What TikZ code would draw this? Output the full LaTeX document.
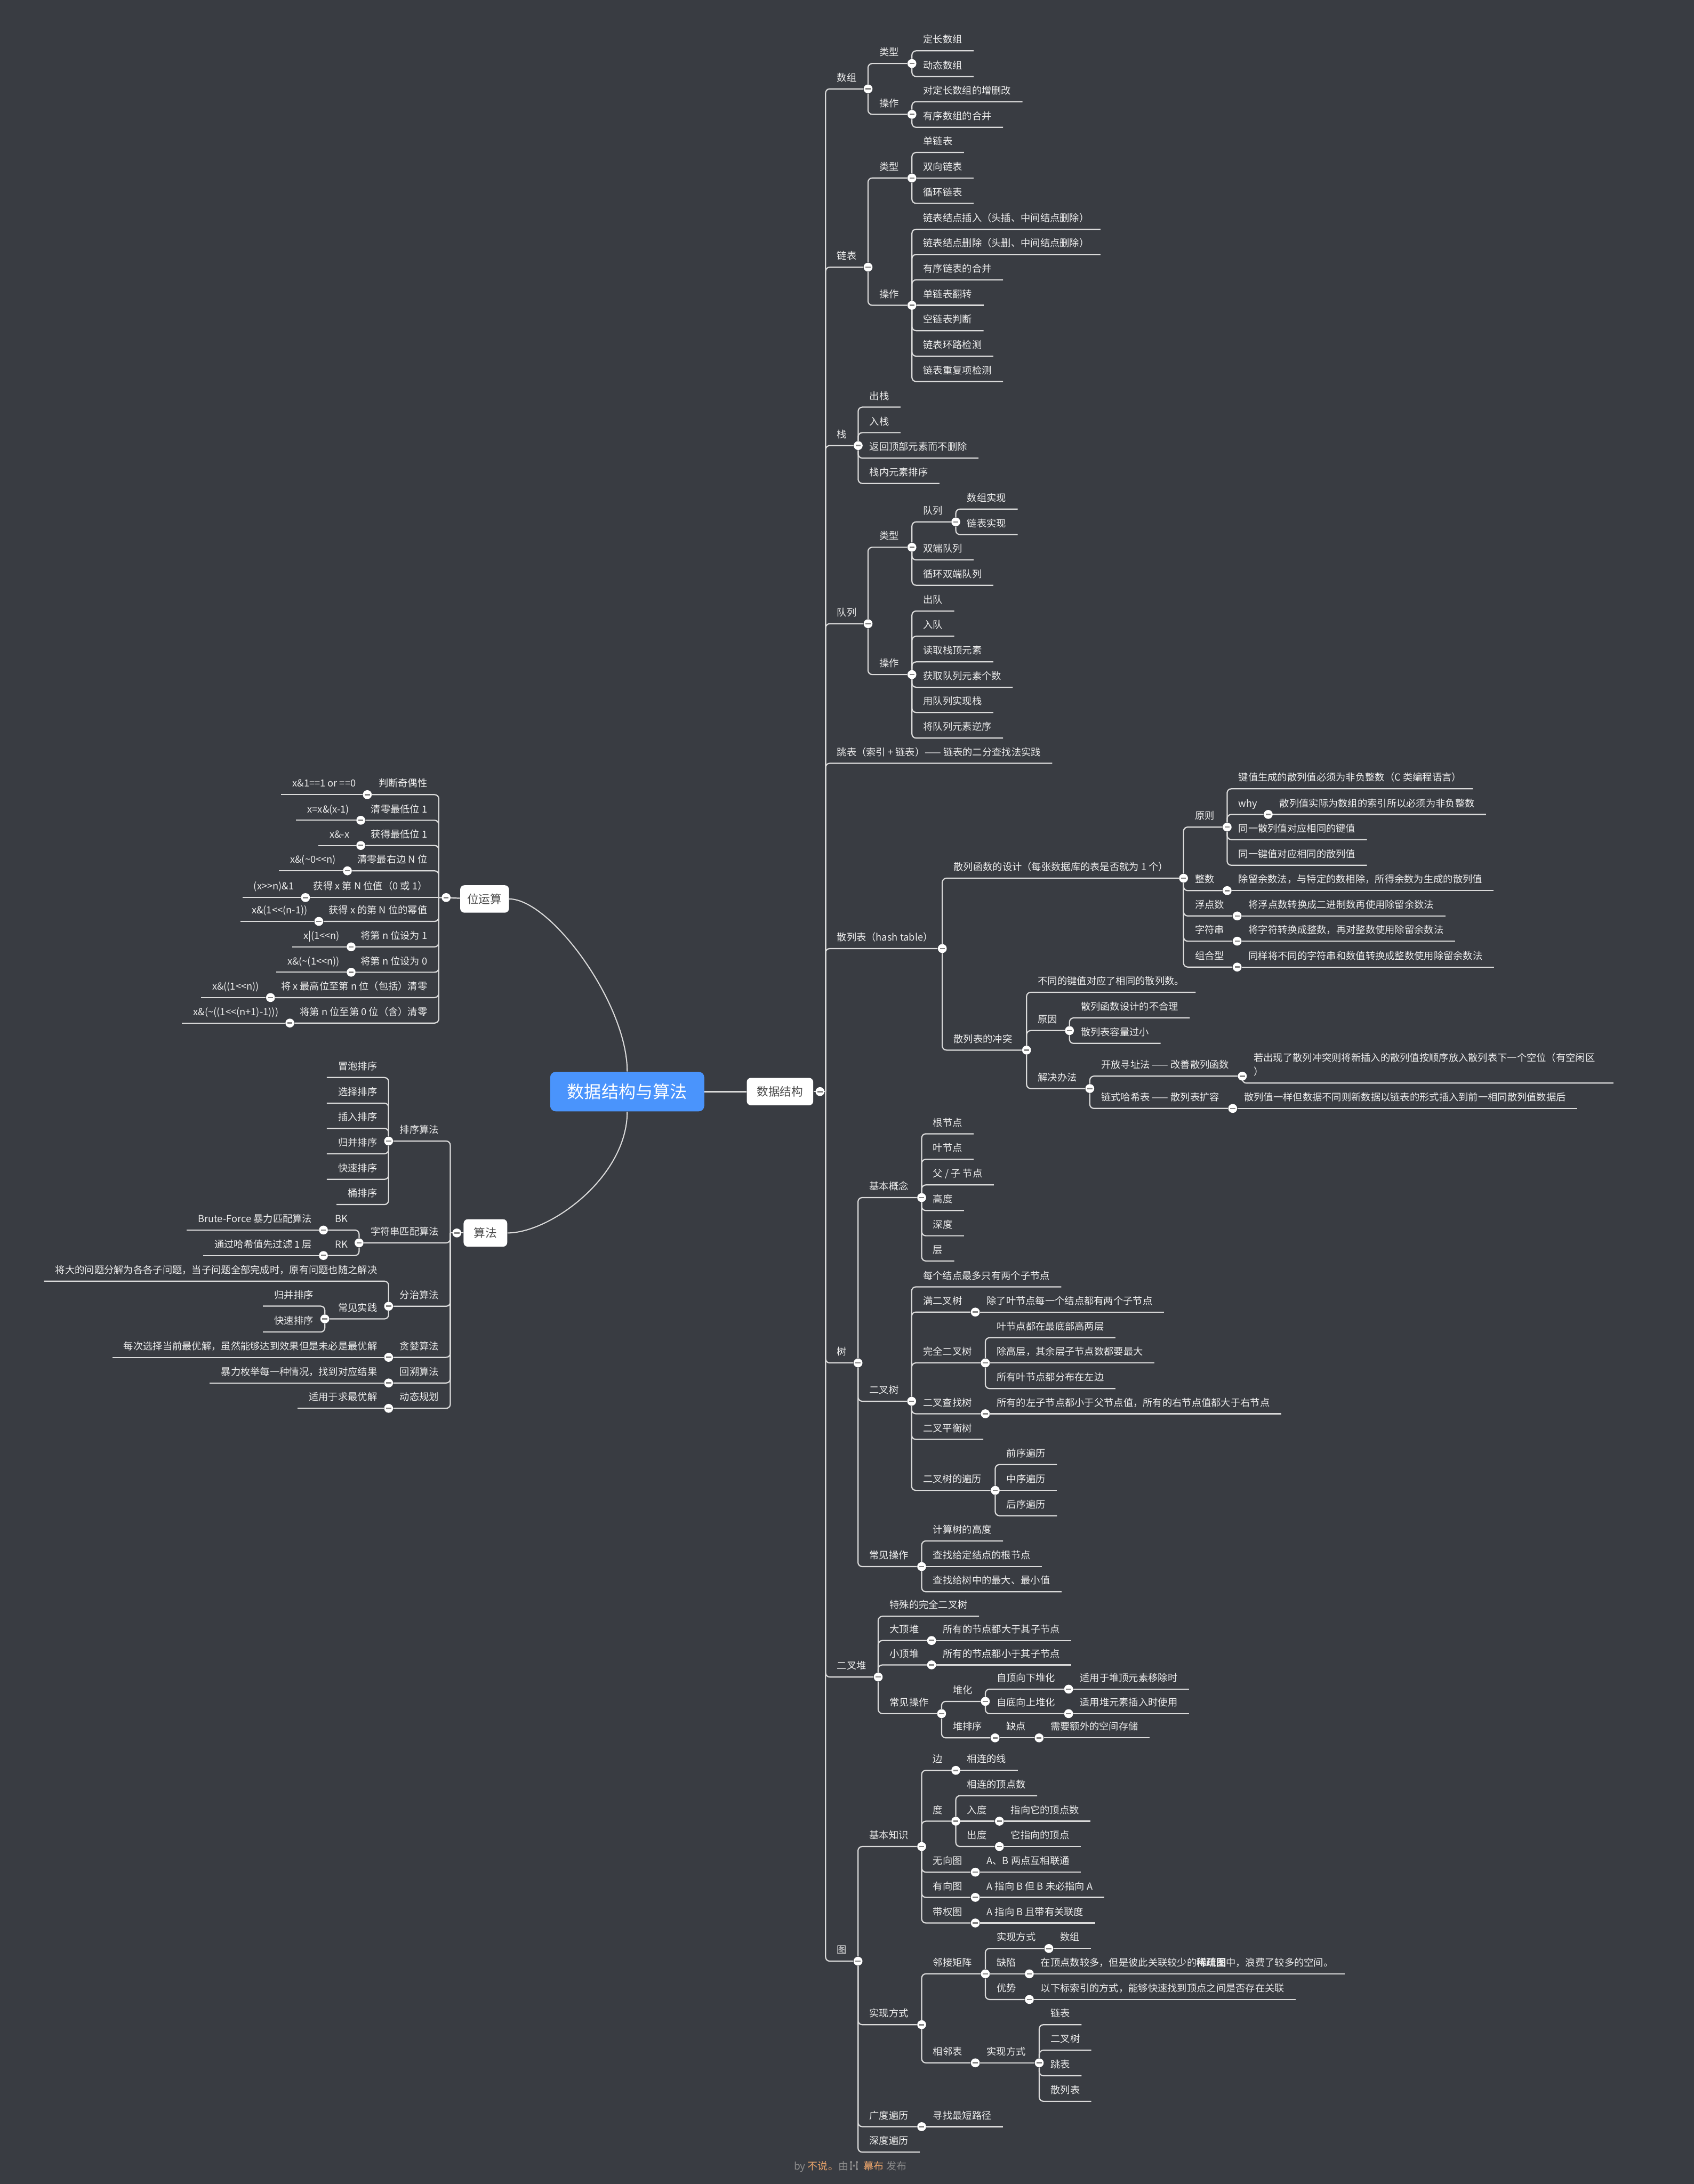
\documentclass[tikz,border=0pt]{standalone}
\usepackage{fontspec}
\setmainfont{Noto Sans CJK SC}
\usetikzlibrary{positioning}
\definecolor{MapBack}{RGB}{57,60,66}
\definecolor{MapLine}{RGB}{218,218,218}
\definecolor{MapText}{RGB}{238,238,238}
\definecolor{BoxText}{RGB}{77,77,77}
\definecolor{RootBlue}{RGB}{74,148,252}
\definecolor{KnobBar}{RGB}{130,130,130}
\definecolor{FootGrey}{RGB}{140,140,140}
\definecolor{FootOrange}{RGB}{232,163,106}
\newcommand{\leaffont}{\fontsize{7}{10}\selectfont}
\newcommand{\topicfont}{\fontsize{8.3}{10}\selectfont}
\newcommand{\rootfont}{\fontsize{12.3}{14}\selectfont}
\newcommand{\footfont}{\fontsize{7.3}{9}\selectfont}
\newcommand{\shl}{<\kern0pt<}
\newcommand{\shr}{>\kern0pt>}
\pgfdeclarelayer{back}
\pgfdeclarelayer{lines}
\pgfsetlayers{back,lines,main}

\begin{document}
\begin{tikzpicture}[
    x=1pt, y=-1pt,
    leaf/.style={anchor=south west, inner xsep=8pt, inner ysep=0pt, text depth=5.3pt, text=MapText, font=\leaffont},
    leafL/.style={leaf, anchor=south east},
    knob/.style={circle, fill=white, inner sep=0pt, minimum size=6.4pt,
        path picture={\fill[KnobBar] ([xshift=-1.8pt,yshift=-0.5pt]path picture bounding box.center) rectangle ([xshift=1.8pt,yshift=0.5pt]path picture bounding box.center);}},
    topic/.style={rectangle, rounded corners=3pt, fill=white, text=BoxText, font=\topicfont, inner sep=0pt, minimum height=19.7pt},
    branch/.style={draw=MapLine, line width=0.85pt, rounded corners=3pt},
    curve/.style={draw=MapLine, line width=0.8pt},
    footnote/.style={font=\footfont, text=FootGrey, inner sep=0pt}
]
\begin{pgfonlayer}{back}
\fill[MapBack] (0,0) rectangle (1216,1568);
\end{pgfonlayer}
\useasboundingbox (0,0) rectangle (1216,1568);

\node[rectangle, rounded corners=4pt, fill=RootBlue, text=white, font=\rootfont, inner sep=0pt, minimum width=110.6pt, minimum height=28.4pt] (root) at (450.3,783.7) {数据结构与算法};
\node[topic, minimum width=47.7pt] (ds) at (560,783.7) {数据结构};
\node[topic, minimum width=35pt] (bit) at (347.9,645.4) {位运算};
\node[topic, minimum width=31.3pt] (algo) at (348.5,885.2) {算法};
\node[knob] (kds) at (588.7,783.7) {};
\node[knob] (kbit) at (320.3,644.4) {};
\node[knob] (kalgo) at (328,885.2) {};
\coordinate (tds) at (592.7,783.7);
\coordinate (tbit) at (315,644.4);
\coordinate (talgo) at (323.3,885.2);

\node[leaf] (sz) at (592.7,63.8) {数组};
\node[knob] (ksz) at (623.2,63.8) {};
\node[leaf] (szlx) at (623.2,45.6) {类型};
\node[knob] (kszlx) at (654.7,45.6) {};
\node[leaf] (szlx1) at (654.7,36.5) {定长数组};
\node[leaf] (szlx2) at (654.7,54.9) {动态数组};
\node[leaf] (szcz) at (623.2,82.1) {操作};
\node[knob] (kszcz) at (654.7,82.1) {};
\node[leaf] (szcz1) at (654.7,73) {对定长数组的增删改};
\node[leaf] (szcz2) at (654.7,91.4) {有序数组的合并};

\node[leaf] (lb) at (592.7,191.8) {链表};
\node[knob] (klb) at (623.2,191.8) {};
\node[leaf] (lblx) at (623.2,127.8) {类型};
\node[knob] (klblx) at (654.7,127.8) {};
\node[leaf] (lblx1) at (654.7,109.5) {单链表};
\node[leaf] (lblx2) at (654.7,127.8) {双向链表};
\node[leaf] (lblx3) at (654.7,146) {循环链表};
\node[leaf] (lbcz) at (623.2,219.2) {操作};
\node[knob] (klbcz) at (654.7,219.2) {};
\node[leaf] (lbcz1) at (654.7,164.6) {链表结点插入（头插、中间结点删除）};
\node[leaf] (lbcz2) at (654.7,182.7) {链表结点删除（头删、中间结点删除）};
\node[leaf] (lbcz3) at (654.7,200.9) {有序链表的合并};
\node[leaf] (lbcz4) at (654.7,219.2) {单链表翻转};
\node[leaf] (lbcz5) at (654.7,237.4) {空链表判断};
\node[leaf] (lbcz6) at (654.7,255.7) {链表环路检测};
\node[leaf] (lbcz7) at (654.7,273.9) {链表重复项检测};

\node[leaf] (zh) at (592.7,319.9) {栈};
\node[knob] (kzh) at (616.1,319.9) {};
\node[leaf] (zh1) at (616.1,292.3) {出栈};
\node[leaf] (zh2) at (616.1,310.6) {入栈};
\node[leaf] (zh3) at (616.1,328.9) {返回顶部元素而不删除};
\node[leaf] (zh4) at (616.1,347.1) {栈内元素排序};

\node[leaf] (dl) at (592.7,447.8) {队列};
\node[knob] (kdl) at (623.2,447.8) {};
\node[leaf] (dllx) at (623.2,392.9) {类型};
\node[knob] (kdllx) at (654.7,392.9) {};
\node[leaf] (dlq) at (654.7,374.7) {队列};
\node[knob] (kdlq) at (686.2,374.7) {};
\node[leaf] (dlq1) at (686.2,365.5) {数组实现};
\node[leaf] (dlq2) at (686.2,383.8) {链表实现};
\node[leaf] (dllx2) at (654.7,402) {双端队列};
\node[leaf] (dllx3) at (654.7,420.2) {循环双端队列};
\node[leaf] (dlcz) at (623.2,484.3) {操作};
\node[knob] (kdlcz) at (654.7,484.3) {};
\node[leaf] (dlcz1) at (654.7,438.7) {出队};
\node[leaf] (dlcz2) at (654.7,456.8) {入队};
\node[leaf] (dlcz3) at (654.7,475.2) {读取栈顶元素};
\node[leaf] (dlcz4) at (654.7,493.4) {获取队列元素个数};
\node[leaf] (dlcz5) at (654.7,511.5) {用队列实现栈};
\node[leaf] (dlcz6) at (654.7,529.9) {将队列元素逆序};

\node[leaf] (tb) at (592.7,548) {跳表（索引 + 链表）—— 链表的二分查找法实践};

\node[leaf] (sl) at (592.7,681) {散列表（hash table）};
\node[knob] (ksl) at (676.5,681) {};
\node[leaf] (slhs) at (676.5,630.5) {散列函数的设计（每张数据库的表是否就为 1 个）};
\node[knob] (kslhs) at (849.7,630.5) {};
\node[leaf] (slyz) at (849.7,593.8) {原则};
\node[knob] (kslyz) at (881,593.8) {};
\node[leaf] (slyz1) at (881,566.3) {键值生成的散列值必须为非负整数（C 类编程语言）};
\node[leaf] (slwhy) at (881,584.7) {why};
\node[knob] (kslwhy) at (910.5,584.7) {};
\node[leaf] (slwhy1) at (910.5,584.7) {散列值实际为数组的索引所以必须为非负整数};
\node[leaf] (slyz3) at (881,602.8) {同一散列值对应相同的键值};
\node[leaf] (slyz4) at (881,621.2) {同一键值对应相同的散列值};
\node[leaf] (slzs) at (849.7,639.4) {整数};
\node[knob] (kslzs) at (881,639.4) {};
\node[leaf] (slzs1) at (881,639.4) {除留余数法，与特定的数相除，所得余数为生成的散列值};
\node[leaf] (slfd) at (849.7,657.6) {浮点数};
\node[knob] (kslfd) at (888.2,657.6) {};
\node[leaf] (slfd1) at (888.2,657.6) {将浮点数转换成二进制数再使用除留余数法};
\node[leaf] (slzf) at (849.7,675.7) {字符串};
\node[knob] (kslzf) at (888.2,675.7) {};
\node[leaf] (slzf1) at (888.2,675.7) {将字符转换成整数，再对整数使用除留余数法};
\node[leaf] (slzh) at (849.7,694.3) {组合型};
\node[knob] (kslzh) at (888.2,694.3) {};
\node[leaf] (slzh1) at (888.2,694.3) {同样将不同的字符串和数值转换成整数使用除留余数法};
\node[leaf] (slct) at (676.5,753.9) {散列表的冲突};
\node[knob] (kslct) at (737,753.9) {};
\node[leaf] (slct1) at (737,712.4) {不同的键值对应了相同的散列数。};
\node[leaf] (slyy) at (737,739.9) {原因};
\node[knob] (kslyy) at (767.8,739.9) {};
\node[leaf] (slyy1) at (767.8,730.8) {散列函数设计的不合理};
\node[leaf] (slyy2) at (767.8,749.1) {散列表容量过小};
\node[leaf] (sljj) at (737,781.5) {解决办法};
\node[knob] (ksljj) at (782.4,781.5) {};
\node[leaf] (slkf) at (782.4,772.6) {开放寻址法 —— 改善散列函数};
\node[knob] (kslkf) at (891.9,772.6) {};
\node[leaf, align=left, inner xsep=13pt] (slkf1) at (886.9,777.6) {若出现了散列冲突则将新插入的散列值按顺序放入散列表下一个空位（有空闲区\\）};
\node[leaf] (sllh) at (782.4,795.8) {链式哈希表 —— 散列表扩容};
\node[knob] (ksllh) at (885,795.8) {};
\node[leaf] (sllh1) at (885,795.8) {散列值一样但数据不同则新数据以链表的形式插入到前一相同散列值数据后};

\node[leaf] (sh) at (592.7,978.5) {树};
\node[knob] (ksh) at (616,978.5) {};
\node[leaf] (shgn) at (616,859.8) {基本概念};
\node[knob] (kshgn) at (661.7,859.8) {};
\node[leaf] (shgn1) at (661.7,814) {根节点};
\node[leaf] (shgn2) at (661.7,832.3) {叶节点};
\node[leaf] (shgn3) at (661.7,850.7) {父 / 子 节点};
\node[leaf] (shgn4) at (661.7,869.1) {高度};
\node[leaf] (shgn5) at (661.7,887.2) {深度};
\node[leaf] (shgn6) at (661.7,905.3) {层};
\node[leaf] (shec) at (616,1006) {二叉树};
\node[knob] (kshec) at (654.5,1006) {};
\node[leaf] (shec1) at (654.5,923.9) {每个结点最多只有两个子节点};
\node[leaf] (shmr) at (654.5,942) {满二叉树};
\node[knob] (kshmr) at (700.2,942) {};
\node[leaf] (shmr1) at (700.2,942) {除了叶节点每一个结点都有两个子节点};
\node[leaf] (shwq) at (654.5,978.5) {完全二叉树};
\node[knob] (kshwq) at (707.4,978.5) {};
\node[leaf] (shwq1) at (707.4,960.4) {叶节点都在最底部高两层};
\node[leaf] (shwq2) at (707.4,978.5) {除高层，其余层子节点数都要最大};
\node[leaf] (shwq3) at (707.4,996.9) {所有叶节点都分布在左边};
\node[leaf] (shcz) at (654.5,1015) {二叉查找树};
\node[knob] (kshcz) at (707.4,1015) {};
\node[leaf] (shcz1) at (707.4,1015) {所有的左子节点都小于父节点值，所有的右节点值都大于右节点};
\node[leaf] (shph) at (654.5,1033.4) {二叉平衡树};
\node[leaf] (shbl) at (654.5,1070) {二叉树的遍历};
\node[knob] (kshbl) at (714.5,1070) {};
\node[leaf] (shbl1) at (714.5,1051.5) {前序遍历};
\node[leaf] (shbl2) at (714.5,1070) {中序遍历};
\node[leaf] (shbl3) at (714.5,1088.2) {后序遍历};
\node[leaf] (shop) at (616,1124.7) {常见操作};
\node[knob] (kshop) at (661.7,1124.7) {};
\node[leaf] (shop1) at (661.7,1106.3) {计算树的高度};
\node[leaf] (shop2) at (661.7,1124.7) {查找给定结点的根节点};
\node[leaf] (shop3) at (661.7,1142.8) {查找给树中的最大、最小值};

\node[leaf] (dd) at (592.7,1204) {二叉堆};
\node[knob] (kdd) at (630.5,1204) {};
\node[leaf] (dd1) at (630.5,1160.4) {特殊的完全二叉树};
\node[leaf] (dddd) at (630.5,1177.8) {大顶堆};
\node[knob] (kdddd) at (668.8,1177.8) {};
\node[leaf] (dddd1) at (668.8,1177.8) {所有的节点都大于其子节点};
\node[leaf] (ddxd) at (630.5,1195.3) {小顶堆};
\node[knob] (kddxd) at (668.8,1195.3) {};
\node[leaf] (ddxd1) at (668.8,1195.3) {所有的节点都小于其子节点};
\node[leaf] (ddop) at (630.5,1230.3) {常见操作};
\node[knob] (kddop) at (676,1230.3) {};
\node[leaf] (ddhh) at (676,1221.5) {堆化};
\node[knob] (kddhh) at (707.4,1221.5) {};
\node[leaf] (ddzd) at (707.4,1212.7) {自顶向下堆化};
\node[knob] (kddzd) at (767.2,1212.7) {};
\node[leaf] (ddzd1) at (767.2,1212.7) {适用于堆顶元素移除时};
\node[leaf] (ddzs) at (707.4,1230.3) {自底向上堆化};
\node[knob] (kddzs) at (767.2,1230.3) {};
\node[leaf] (ddzs1) at (767.2,1230.3) {适用堆元素插入时使用};
\node[leaf] (ddpx) at (676,1247.7) {堆排序};
\node[knob] (kddpx) at (714.4,1247.7) {};
\node[leaf] (ddqd) at (714.4,1247.7) {缺点};
\node[knob] (kddqd) at (746,1247.7) {};
\node[leaf] (ddqd1) at (746,1247.7) {需要额外的空间存储};

\node[leaf] (tu) at (592.7,1408) {图};
\node[knob] (ktu) at (616,1408) {};
\node[leaf] (tuzs) at (616,1325.7) {基本知识};
\node[knob] (ktuzs) at (661.7,1325.7) {};
\node[leaf] (tub) at (661.7,1271) {边};
\node[knob] (ktub) at (686.2,1271) {};
\node[leaf] (tub1) at (686.2,1271) {相连的线};
\node[leaf] (tud) at (661.7,1307.5) {度};
\node[knob] (ktud) at (686.2,1307.5) {};
\node[leaf] (tud1) at (686.2,1289.2) {相连的顶点数};
\node[leaf] (turd) at (686.2,1307.5) {入度};
\node[knob] (kturd) at (717.5,1307.5) {};
\node[leaf] (turd1) at (717.5,1307.5) {指向它的顶点数};
\node[leaf] (tucd) at (686.2,1325.7) {出度};
\node[knob] (ktucd) at (717.5,1325.7) {};
\node[leaf] (tucd1) at (717.5,1325.7) {它指向的顶点};
\node[leaf] (tuwx) at (661.7,1344.1) {无向图};
\node[knob] (ktuwx) at (700.2,1344.1) {};
\node[leaf] (tuwx1) at (700.2,1344.1) {A、B 两点互相联通};
\node[leaf] (tuyx) at (661.7,1362.2) {有向图};
\node[knob] (ktuyx) at (700.2,1362.2) {};
\node[leaf] (tuyx1) at (700.2,1362.2) {A 指向 B 但 B 未必指向 A};
\node[leaf] (tudq) at (661.7,1380.6) {带权图};
\node[knob] (ktudq) at (700.2,1380.6) {};
\node[leaf] (tudq1) at (700.2,1380.6) {A 指向 B 且带有关联度};
\node[leaf] (tusx) at (616,1453.6) {实现方式};
\node[knob] (ktusx) at (661.7,1453.6) {};
\node[leaf] (tujz) at (661.7,1417.1) {邻接矩阵};
\node[knob] (ktujz) at (707.4,1417.1) {};
\node[leaf] (tujzsx) at (707.4,1398.9) {实现方式};
\node[knob] (ktujzsx) at (753,1398.9) {};
\node[leaf] (tujzsx1) at (753,1398.9) {数组};
\node[leaf] (tujzqx) at (707.4,1417.1) {缺陷};
\node[knob] (ktujzqx) at (739,1417.1) {};
\node[leaf] (tujzqx1) at (739,1417.1) {在顶点数较多，但是彼此关联较少的\textbf{稀疏图}中，浪费了较多的空间。};
\node[leaf] (tujzys) at (707.4,1435.5) {优势};
\node[knob] (ktujzys) at (739,1435.5) {};
\node[leaf] (tujzys1) at (739,1435.5) {以下标索引的方式，能够快速找到顶点之间是否存在关联};
\node[leaf] (tulb) at (661.7,1481) {相邻表};
\node[knob] (ktulb) at (700.2,1481) {};
\node[leaf] (tulbsx) at (700.2,1481) {实现方式};
\node[knob] (ktulbsx) at (746.1,1481) {};
\node[leaf] (tulbsx1) at (746.1,1453.6) {链表};
\node[leaf] (tulbsx2) at (746.1,1471.9) {二叉树};
\node[leaf] (tulbsx3) at (746.1,1490.3) {跳表};
\node[leaf] (tulbsx4) at (746.1,1508.6) {散列表};
\node[leaf] (tugd) at (616,1526.8) {广度遍历};
\node[knob] (ktugd) at (661.7,1526.8) {};
\node[leaf] (tugd1) at (661.7,1526.8) {寻找最短路径};
\node[leaf] (tusd) at (616,1545.1) {深度遍历};

\node[leafL] (w1) at (315,570.5) {判断奇偶性};
\node[knob] (kw1) at (263.7,570.5) {};
\node[leafL] (w1a) at (263.7,570.5) {x\&1==1 or ==0};
\node[leafL] (w2) at (315,588.9) {清零最低位 1};
\node[knob] (kw2) at (259,588.9) {};
\node[leafL] (w2a) at (259,588.9) {x=x\&(x-1)};
\node[leafL] (w3) at (315,607) {获得最低位 1};
\node[knob] (kw3) at (259,607) {};
\node[leafL] (w3a) at (259,607) {x\&-x};
\node[leafL] (w4) at (315,625.2) {清零最右边 N 位};
\node[knob] (kw4) at (249.4,625.2) {};
\node[leafL] (w4a) at (249.4,625.2) {x\&(\textasciitilde 0\shl n)};
\node[leafL] (w5) at (315,644.4) {获得 x 第 N 位值（0 或 1）};
\node[knob] (kw5) at (219.3,644.4) {};
\node[leafL] (w5a) at (219.3,644.4) {(x\shr n)\&1};
\node[leafL] (w6) at (315,661.5) {获得 x 的第 N 位的幂值};
\node[knob] (kw6) at (228.9,661.5) {};
\node[leafL] (w6a) at (228.9,661.5) {x\&(1\shl(n-1))};
\node[leafL] (w7) at (315,679.8) {将第 n 位设为 1};
\node[knob] (kw7) at (252.1,679.8) {};
\node[leafL] (w7a) at (252.1,679.8) {x|(1\shl n)};
\node[leafL] (w8) at (315,698) {将第 n 位设为 0};
\node[knob] (kw8) at (252.1,698) {};
\node[leafL] (w8a) at (252.1,698) {x\&(\textasciitilde(1\shl n))};
\node[leafL] (w9) at (315,716.2) {将 x 最高位至第 n 位（包括）清零};
\node[knob] (kw9) at (194.2,716.2) {};
\node[leafL] (w9a) at (194.2,716.2) {x\&((1\shl n))};
\node[leafL] (w10) at (315,734.5) {将第 n 位至第 0 位（含）清零};
\node[knob] (kw10) at (208.1,734.5) {};
\node[leafL] (w10a) at (208.1,734.5) {x\&(\textasciitilde((1\shl(n+1)-1)))};

\node[leafL] (px) at (323.3,819.2) {排序算法};
\node[knob] (kpx) at (279,819.2) {};
\node[leafL] (px1) at (279,773.6) {冒泡排序};
\node[leafL] (px2) at (279,792) {选择排序};
\node[leafL] (px3) at (279,810.1) {插入排序};
\node[leafL] (px4) at (279,828.3) {归并排序};
\node[leafL] (px5) at (279,846.7) {快速排序};
\node[leafL] (px6) at (279,864.8) {桶排序};
\node[leafL] (zf) at (323.3,892.3) {字符串匹配算法};
\node[knob] (kzf) at (257.8,892.3) {};
\node[leafL] (zfbk) at (257.8,883.1) {BK};
\node[knob] (kzfbk) at (232.2,883.1) {};
\node[leafL] (zfbk1) at (232.2,883.1) {Brute-Force 暴力匹配算法};
\node[leafL] (zfrk) at (257.8,901.4) {RK};
\node[knob] (kzfrk) at (232.2,901.4) {};
\node[leafL] (zfrk1) at (232.2,901.4) {通过哈希值先过滤 1 层};
\node[leafL] (fz) at (323.3,937.8) {分治算法};
\node[knob] (kfz) at (279,937.8) {};
\node[leafL] (fz1) at (279,919.8) {将大的问题分解为各各子问题，当子问题全部完成时，原有问题也随之解决};
\node[leafL] (fzsj) at (279,946.9) {常见实践};
\node[knob] (kfzsj) at (233.2,946.9) {};
\node[leafL] (fzsj1) at (233.2,937.7) {归并排序};
\node[leafL] (fzsj2) at (233.2,956.3) {快速排序};
\node[leafL] (tl) at (323.3,974.5) {贪婪算法};
\node[knob] (ktl) at (279,974.5) {};
\node[leafL] (tl1) at (279,974.5) {每次选择当前最优解，虽然能够达到效果但是未必是最优解};
\node[leafL] (hs) at (323.3,992.9) {回溯算法};
\node[knob] (khs) at (279,992.9) {};
\node[leafL] (hs1) at (279,992.9) {暴力枚举每一种情况，找到对应结果};
\node[leafL] (dt) at (323.3,1011.1) {动态规划};
\node[knob] (kdt) at (279,1011.1) {};
\node[leafL] (dt1) at (279,1011.1) {适用于求最优解};

\node[footnote, anchor=base west] (foot) at (569.8,1557.7) {by \textcolor{FootOrange}{不说。}由};
\node[footnote, right=10.5pt of foot.base east, anchor=base west] (foot2) {\textcolor{FootOrange}{幕布} 发布};
\draw[FootGrey, line width=0.5pt] (611,1552.3) -- (611,1557.3) (615.2,1552.3) -- (615.2,1557.3);
\fill[FootGrey] (611,1552.3) circle (0.8pt) (611,1557.3) circle (0.8pt) (613.1,1554.8) circle (0.8pt) (615.2,1552.3) circle (0.8pt) (615.2,1557.3) circle (0.8pt);

\begin{pgfonlayer}{lines}
\draw[curve] (root.north) .. controls (450.3,720) and (395,645.4) .. (bit.east);
\draw[curve] (root.south) .. controls (450.3,845) and (395,885.2) .. (algo.east);
\draw[branch, line width=1.2pt] (root) -- (ds);
\draw[branch] (ds) -- (tds);
\draw[branch] (bit) -- (tbit);
\draw[branch] (algo) -- (talgo);

\foreach \kn in {ksz,klb,kzh,kdl,ksl,ksh,kdd,ktu} \draw[branch] (tds) |- (\kn);
\draw[branch] (tds) |- (tb.south east);
\foreach \kn in {kszlx,kszcz} \draw[branch] (ksz) |- (\kn);
\foreach \nd in {szlx1,szlx2} \draw[branch] (kszlx) |- (\nd.south east);
\foreach \nd in {szcz1,szcz2} \draw[branch] (kszcz) |- (\nd.south east);
\foreach \kn in {klblx,klbcz} \draw[branch] (klb) |- (\kn);
\foreach \nd in {lblx1,lblx3} \draw[branch] (klblx) |- (\nd.south east);
\draw[branch] (klblx) -- (lblx2.south east);
\foreach \nd in {lbcz1,lbcz2,lbcz3,lbcz5,lbcz6,lbcz7} \draw[branch] (klbcz) |- (\nd.south east);
\draw[branch] (klbcz) -- (lbcz4.south east);
\foreach \nd in {zh1,zh2,zh3,zh4} \draw[branch] (kzh) |- (\nd.south east);
\foreach \kn in {kdllx,kdlcz} \draw[branch] (kdl) |- (\kn);
\draw[branch] (kdllx) |- (kdlq);
\foreach \nd in {dlq1,dlq2} \draw[branch] (kdlq) |- (\nd.south east);
\foreach \nd in {dllx2,dllx3} \draw[branch] (kdllx) |- (\nd.south east);
\foreach \nd in {dlcz1,dlcz2,dlcz3,dlcz4,dlcz5,dlcz6} \draw[branch] (kdlcz) |- (\nd.south east);

\foreach \kn in {kslhs,kslct} \draw[branch] (ksl) |- (\kn);
\foreach \kn in {kslyz,kslzs,kslfd,kslzf,kslzh} \draw[branch] (kslhs) |- (\kn);
\foreach \nd in {slyz1,slyz3,slyz4} \draw[branch] (kslyz) |- (\nd.south east);
\draw[branch] (kslyz) |- (kslwhy);
\draw[branch] (kslwhy) -- (slwhy1.south east);
\draw[branch] (kslzs) -- (slzs1.south east);
\draw[branch] (kslfd) -- (slfd1.south east);
\draw[branch] (kslzf) -- (slzf1.south east);
\draw[branch] (kslzh) -- (slzh1.south east);
\draw[branch] (kslct) |- (slct1.south east);
\foreach \kn in {kslyy,ksljj} \draw[branch] (kslct) |- (\kn);
\foreach \nd in {slyy1,slyy2} \draw[branch] (kslyy) |- (\nd.south east);
\foreach \kn in {kslkf,ksllh} \draw[branch] (ksljj) |- (\kn);
\draw[branch] (kslkf) |- (slkf1.south east);
\draw[branch] (ksllh) -- (sllh1.south east);

\foreach \kn in {kshgn,kshec,kshop} \draw[branch] (ksh) |- (\kn);
\foreach \nd in {shgn1,shgn2,shgn3,shgn4,shgn5,shgn6} \draw[branch] (kshgn) |- (\nd.south east);
\foreach \nd in {shec1,shph} \draw[branch] (kshec) |- (\nd.south east);
\foreach \kn in {kshmr,kshwq,kshcz,kshbl} \draw[branch] (kshec) |- (\kn);
\draw[branch] (kshmr) -- (shmr1.south east);
\foreach \nd in {shwq1,shwq3} \draw[branch] (kshwq) |- (\nd.south east);
\draw[branch] (kshwq) -- (shwq2.south east);
\draw[branch] (kshcz) -- (shcz1.south east);
\foreach \nd in {shbl1,shbl3} \draw[branch] (kshbl) |- (\nd.south east);
\draw[branch] (kshbl) -- (shbl2.south east);
\foreach \nd in {shop1,shop3} \draw[branch] (kshop) |- (\nd.south east);
\draw[branch] (kshop) -- (shop2.south east);

\draw[branch] (kdd) |- (dd1.south east);
\foreach \kn in {kdddd,kddxd,kddop} \draw[branch] (kdd) |- (\kn);
\draw[branch] (kdddd) -- (dddd1.south east);
\draw[branch] (kddxd) -- (ddxd1.south east);
\foreach \kn in {kddhh,kddpx} \draw[branch] (kddop) |- (\kn);
\foreach \kn in {kddzd,kddzs} \draw[branch] (kddhh) |- (\kn);
\draw[branch] (kddzd) -- (ddzd1.south east);
\draw[branch] (kddzs) -- (ddzs1.south east);
\draw[branch] (kddpx) -- (kddqd);
\draw[branch] (kddqd) -- (ddqd1.south east);

\foreach \kn in {ktuzs,ktusx,ktugd} \draw[branch] (ktu) |- (\kn);
\draw[branch] (ktu) |- (tusd.south east);
\foreach \kn in {ktub,ktud,ktuwx,ktuyx,ktudq} \draw[branch] (ktuzs) |- (\kn);
\draw[branch] (ktub) -- (tub1.south east);
\draw[branch] (ktud) |- (tud1.south east);
\draw[branch] (ktud) -- (kturd);
\draw[branch] (ktud) |- (ktucd);
\draw[branch] (kturd) -- (turd1.south east);
\draw[branch] (ktucd) -- (tucd1.south east);
\draw[branch] (ktuwx) -- (tuwx1.south east);
\draw[branch] (ktuyx) -- (tuyx1.south east);
\draw[branch] (ktudq) -- (tudq1.south east);
\foreach \kn in {ktujz,ktulb} \draw[branch] (ktusx) |- (\kn);
\foreach \kn in {ktujzsx,ktujzys} \draw[branch] (ktujz) |- (\kn);
\draw[branch] (ktujz) -- (ktujzqx);
\draw[branch] (ktujzsx) -- (tujzsx1.south east);
\draw[branch] (ktujzqx) -- (tujzqx1.south east);
\draw[branch] (ktujzys) -- (tujzys1.south east);
\draw[branch] (ktulb) -- (ktulbsx);
\foreach \nd in {tulbsx1,tulbsx2,tulbsx3,tulbsx4} \draw[branch] (ktulbsx) |- (\nd.south east);
\draw[branch] (ktugd) -- (tugd1.south east);

\foreach \i in {1,2,3,4,6,7,8,9,10} \draw[branch] (tbit) |- (kw\i);
\draw[branch] (tbit) -- (kw5);
\foreach \i in {1,...,10} \draw[branch] (kw\i) -- (w\i a.south west);

\foreach \kn in {kpx,kzf,kfz,ktl,khs,kdt} \draw[branch] (talgo) |- (\kn);
\foreach \nd in {px1,px2,px3,px4,px5,px6} \draw[branch] (kpx) |- (\nd.south west);
\foreach \kn in {kzfbk,kzfrk} \draw[branch] (kzf) |- (\kn);
\draw[branch] (kzfbk) -- (zfbk1.south west);
\draw[branch] (kzfrk) -- (zfrk1.south west);
\draw[branch] (kfz) |- (fz1.south west);
\draw[branch] (kfz) |- (kfzsj);
\foreach \nd in {fzsj1,fzsj2} \draw[branch] (kfzsj) |- (\nd.south west);
\draw[branch] (ktl) -- (tl1.south west);
\draw[branch] (khs) -- (hs1.south west);
\draw[branch] (kdt) -- (dt1.south west);
\end{pgfonlayer}
\end{tikzpicture}
\end{document}
